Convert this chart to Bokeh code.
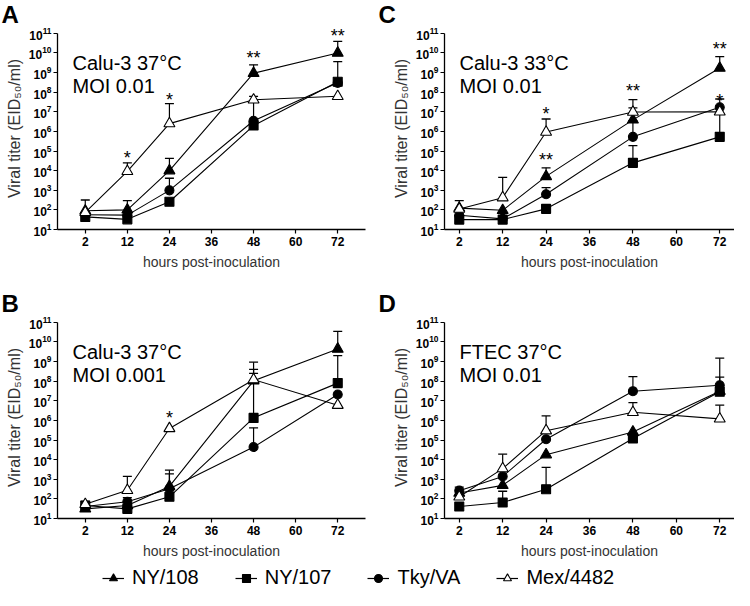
from bokeh.plotting import figure
from bokeh.models import (FactorRange, Range1d, Label, Legend, LegendItem,
                          FixedTicker, LogTickFormatter)
from bokeh.layouts import column, row
from bokeh.embed import file_html
from bokeh.resources import INLINE
from bokeh.core.properties import value

# ---------------- data ----------------
categories = ["2", "12", "24", "36", "48", "60", "72"]
hours = ["2", "12", "24", "48", "72"]
strains = ["NY/108", "NY/107", "Tky/VA", "Mex/4482"]
y_ticks = [1e1, 1e2, 1e3, 1e4, 1e5, 1e6, 1e7, 1e8, 1e9, 1e10, 1e11]

# Panel A: Calu-3 37°C, MOI 0.01
A_NY108 = [90, 100, 1.0e4, 9.3e8, 1.0e10]
A_NY108_err = [320, 300, 4.2e4, 2.5e9, 3.9e10]
A_NY107 = [44, 33, 260, 2.0e6, 3.4e8]
A_NY107_err = [None, None, None, None, 3.6e9]
A_TkyVA = [57, 54, 990, 3.5e6, 3.0e8]
A_TkyVA_err = [None, None, 4.1e3, 3.0e7, None]
A_Mex4482 = [75, 9.2e3, 2.5e6, 4.1e7, 6.2e7]
A_Mex4482_err = [None, 2.5e4, 2.6e7, 6.2e7, None]
A_sig_x = ["12", "24", "48", "72"]
A_sig_y = [7.4e4, 6.2e7, 8.5e9, 1.2e11]
A_sig_text = ["*", "*", "**", "**"]

# Panel C: Calu-3 33°C, MOI 0.01
C_NY108 = [123, 95, 5.1e3, 3.9e6, 1.7e9]
C_NY108_err = [295, None, 1.4e4, 4.2e7, 6.5e9]
C_NY107 = [32, 32, 113, 2.5e4, 5.3e5]
C_NY107_err = [None, None, None, 1.9e5, 8.0e6]
C_TkyVA = [53, 35, 630, 5.3e5, 1.7e7]
C_TkyVA_err = [None, None, 1.35e3, 3.5e6, 4.5e7]
C_Mex4482 = [110, 420, 9.3e5, 9.8e6, 1.0e7]
C_Mex4482_err = [None, 4.6e3, 4.3e6, 1.6e7, None]
C_sig_x = ["24", "24", "48", "72", "72"]
C_sig_y = [1.3e7, 5.4e4, 1.9e8, 2.6e10, 6.0e7]
C_sig_text = ["*", "**", "**", "**", "*"]

# Panel B: Calu-3 37°C, MOI 0.001
B_NY108 = [31, 46, 433, 1.05e8, 4.4e9]
B_NY108_err = [None, None, 2.9e3, 9.3e8, 3.5e10]
B_NY107 = [46, 31, 128, 1.35e6, 8.0e7]
B_NY107_err = [75, None, None, 2.5e8, 2.0e9]
B_TkyVA = [41, 72, 330, 4.4e4, 2.1e7]
B_TkyVA_err = [None, 115, 1.87e3, 4.2e5, None]
B_Mex4482 = [53, 275, 3.9e5, 1.2e8, 6.0e6]
B_Mex4482_err = [None, 1.4e3, None, 4.0e8, None]
B_sig_x = ["24"]
B_sig_y = [2.1e6]
B_sig_text = ["*"]

# Panel D: FTEC 37°C, MOI 0.01
D_NY108 = [200, 490, 1.8e4, 2.6e5, 3.1e7]
D_NY108_err = [None, None, None, None, 1.6e8]
D_NY107 = [41, 66, 310, 1.2e5, 2.9e7]
D_NY107_err = [None, 245, 4.0e3, None, None]
D_TkyVA = [263, 1.4e3, 1.1e5, 3.1e7, 6.2e7]
D_TkyVA_err = [400, None, None, 1.7e8, 1.5e9]
D_Mex4482 = [128, 3.5e3, 3.0e5, 2.6e6, 1.2e6]
D_Mex4482_err = [None, 1.9e4, 1.7e6, 8.1e6, 6.0e6]
D_sig_x = []
D_sig_y = []
D_sig_text = []

# ---------------- styles ----------------
FONT = "Liberation Sans"
MARKERS = {
    "NY/108": dict(marker="triangle", size=11, fill_color="black"),
    "NY/107": dict(marker="square", size=9, fill_color="black"),
    "Tky/VA": dict(marker="circle", size=9, fill_color="black"),
    "Mex/4482": dict(marker="triangle", size=11, fill_color="white"),
}
Y_TOP = 10 ** 11.3

LW, RW = 370, 364
FRAME_H = 202
TOP_H, BOT_H = FRAME_H + 60, FRAME_H + 46
STRIP_H, LEG_H = 27, 26


def make_panel(lines, series, errors, sig_x, sig_y, sig_text,
               width, height, left, right, pad):
    bottom = height - FRAME_H
    p = figure(width=width, height=height, title=None,
               x_range=FactorRange(factors=categories, range_padding=pad,
                                   range_padding_units="absolute"),
               y_range=Range1d(10, Y_TOP), y_axis_type="log",
               toolbar_location=None, output_backend="svg",
               min_border_left=left, min_border_right=right,
               min_border_top=0, min_border_bottom=bottom)
    p.outline_line_color = None
    p.grid.visible = False

    for ax in (p.xaxis[0], p.yaxis[0]):
        ax.axis_line_width = 1.3
        ax.axis_line_color = "black"
        ax.major_tick_line_color = "black"
        ax.major_tick_line_width = 1.2
        ax.major_tick_in = 0
        ax.major_tick_out = 4
        ax.minor_tick_line_color = None
        ax.major_label_text_font = FONT
        ax.major_label_text_font_style = "bold"
        ax.major_label_text_font_size = "12px"
        ax.major_label_text_color = "black"
        ax.axis_label_text_font = FONT
        ax.axis_label_text_font_style = "normal"
        ax.axis_label_text_color = "#333333"
    p.xaxis.major_label_standoff = 3
    p.xaxis.axis_label = "hours post-inoculation"
    p.xaxis.axis_label_text_font_size = "14px"
    p.xaxis.axis_label_standoff = 5
    p.yaxis.ticker = FixedTicker(ticks=y_ticks)
    p.yaxis.formatter = LogTickFormatter(min_exponent=0)
    p.yaxis.bounds = (y_ticks[0], y_ticks[-1])
    p.yaxis.major_label_standoff = 2
    p.yaxis.axis_label = "Viral titer (EID\u2085\u2080/ml)"
    p.yaxis.axis_label_text_font_size = "16px"
    p.yaxis.axis_label_standoff = 3

    # error bars (upward only)
    for name in strains:
        vals, errs = series[name], errors[name]
        ex = [h for h, e in zip(hours, errs) if e is not None]
        ey0 = [v for v, e in zip(vals, errs) if e is not None]
        ey1 = [e for e in errs if e is not None]
        if ex:
            p.segment(x0=ex, y0=ey0, x1=ex, y1=ey1, line_color="black", line_width=1.2)
            p.scatter(x=ex, y=ey1, marker="dash", size=9, line_color="black", line_width=1.3)

    for name in strains:
        p.line(x=hours, y=series[name], line_color="black", line_width=1.1)
    for name in strains:
        st = MARKERS[name]
        p.scatter(x=hours, y=series[name], marker=st["marker"], size=st["size"],
                  fill_color=st["fill_color"], line_color="black", line_width=1.1)

    if sig_x:
        p.text(x=sig_x, y=sig_y, text=sig_text, text_font=value(FONT),
               text_font_size="18px", text_align="center", text_baseline="middle",
               text_color="black", y_offset=4)

    for i, line in enumerate(lines):
        p.add_layout(Label(x=15, y=FRAME_H - 35 - 23 * i, x_units="screen", y_units="screen",
                           text=line, text_font=FONT, text_font_size="20px",
                           text_color="black", text_baseline="alphabetic",
                           text_align="left"))
    return p


def letter_strip(left_letter, right_letter):
    s = figure(width=LW + RW, height=STRIP_H, title=None, toolbar_location=None,
               output_backend="svg",
               x_range=Range1d(0, LW + RW), y_range=Range1d(0, STRIP_H),
               x_axis_location=None, y_axis_location=None,
               min_border_left=0, min_border_right=0, min_border_top=0, min_border_bottom=0)
    s.grid.visible = False
    s.outline_line_color = None
    for x, t in ((1, left_letter), (378, right_letter)):
        s.add_layout(Label(x=x, y=0, x_units="screen", y_units="screen", text=t,
                           text_font=FONT, text_font_size="24px", text_font_style="bold",
                           text_color="black", text_baseline="bottom"))
    return s


def ser(a, b, c, d):
    return dict(zip(strains, [a, b, c, d]))


pA = make_panel(["Calu-3 37°C", "MOI 0.01"],
                ser(A_NY108, A_NY107, A_TkyVA, A_Mex4482),
                ser(A_NY108_err, A_NY107_err, A_TkyVA_err, A_Mex4482_err),
                A_sig_x, A_sig_y, A_sig_text, LW, TOP_H, 57, 5, 0.16)
pC = make_panel(["Calu-3 33°C", "MOI 0.01"],
                ser(C_NY108, C_NY107, C_TkyVA, C_Mex4482),
                ser(C_NY108_err, C_NY107_err, C_TkyVA_err, C_Mex4482_err),
                C_sig_x, C_sig_y, C_sig_text, RW, TOP_H, 74, 0, -0.16)
pB = make_panel(["Calu-3 37°C", "MOI 0.001"],
                ser(B_NY108, B_NY107, B_TkyVA, B_Mex4482),
                ser(B_NY108_err, B_NY107_err, B_TkyVA_err, B_Mex4482_err),
                B_sig_x, B_sig_y, B_sig_text, LW, BOT_H, 57, 5, 0.16)
pD = make_panel(["FTEC 37°C", "MOI 0.01"],
                ser(D_NY108, D_NY107, D_TkyVA, D_Mex4482),
                ser(D_NY108_err, D_NY107_err, D_TkyVA_err, D_Mex4482_err),
                D_sig_x, D_sig_y, D_sig_text, RW, BOT_H, 74, 0, -0.16)

# legend strip (placeholder renderers sit outside the visible range; only the legend shows)
lf = figure(width=LW + RW, height=LEG_H, title=None, toolbar_location=None,
            output_backend="svg",
            x_range=Range1d(0, 1), y_range=Range1d(0, 1),
            x_axis_location=None, y_axis_location=None,
            min_border_left=0, min_border_right=0, min_border_top=0, min_border_bottom=0)
lf.grid.visible = False
lf.outline_line_color = None
items = []
for name in strains:
    st = MARKERS[name]
    r1 = lf.line(x=[-5, -4], y=[-5, -5], line_color="black", line_width=1.2)
    r2 = lf.scatter(x=[-5], y=[-5], marker=st["marker"], size=st["size"],
                    fill_color=st["fill_color"], line_color="black", line_width=1.1)
    items.append(LegendItem(label=name, renderers=[r1, r2]))
leg = Legend(items=items, orientation="horizontal", location=(102, 1),
             label_text_font=FONT, label_text_font_size="20px", label_text_color="black",
             glyph_width=22, glyph_height=20, label_standoff=8, spacing=36,
             padding=0, margin=0, border_line_color=None, background_fill_alpha=0,
             label_height=20)
lf.add_layout(leg)

layout = column(letter_strip("A", "C"), row(pA, pC),
                letter_strip("B", "D"), row(pB, pD), lf)
open("out.html", "w").write(file_html(layout, INLINE))
